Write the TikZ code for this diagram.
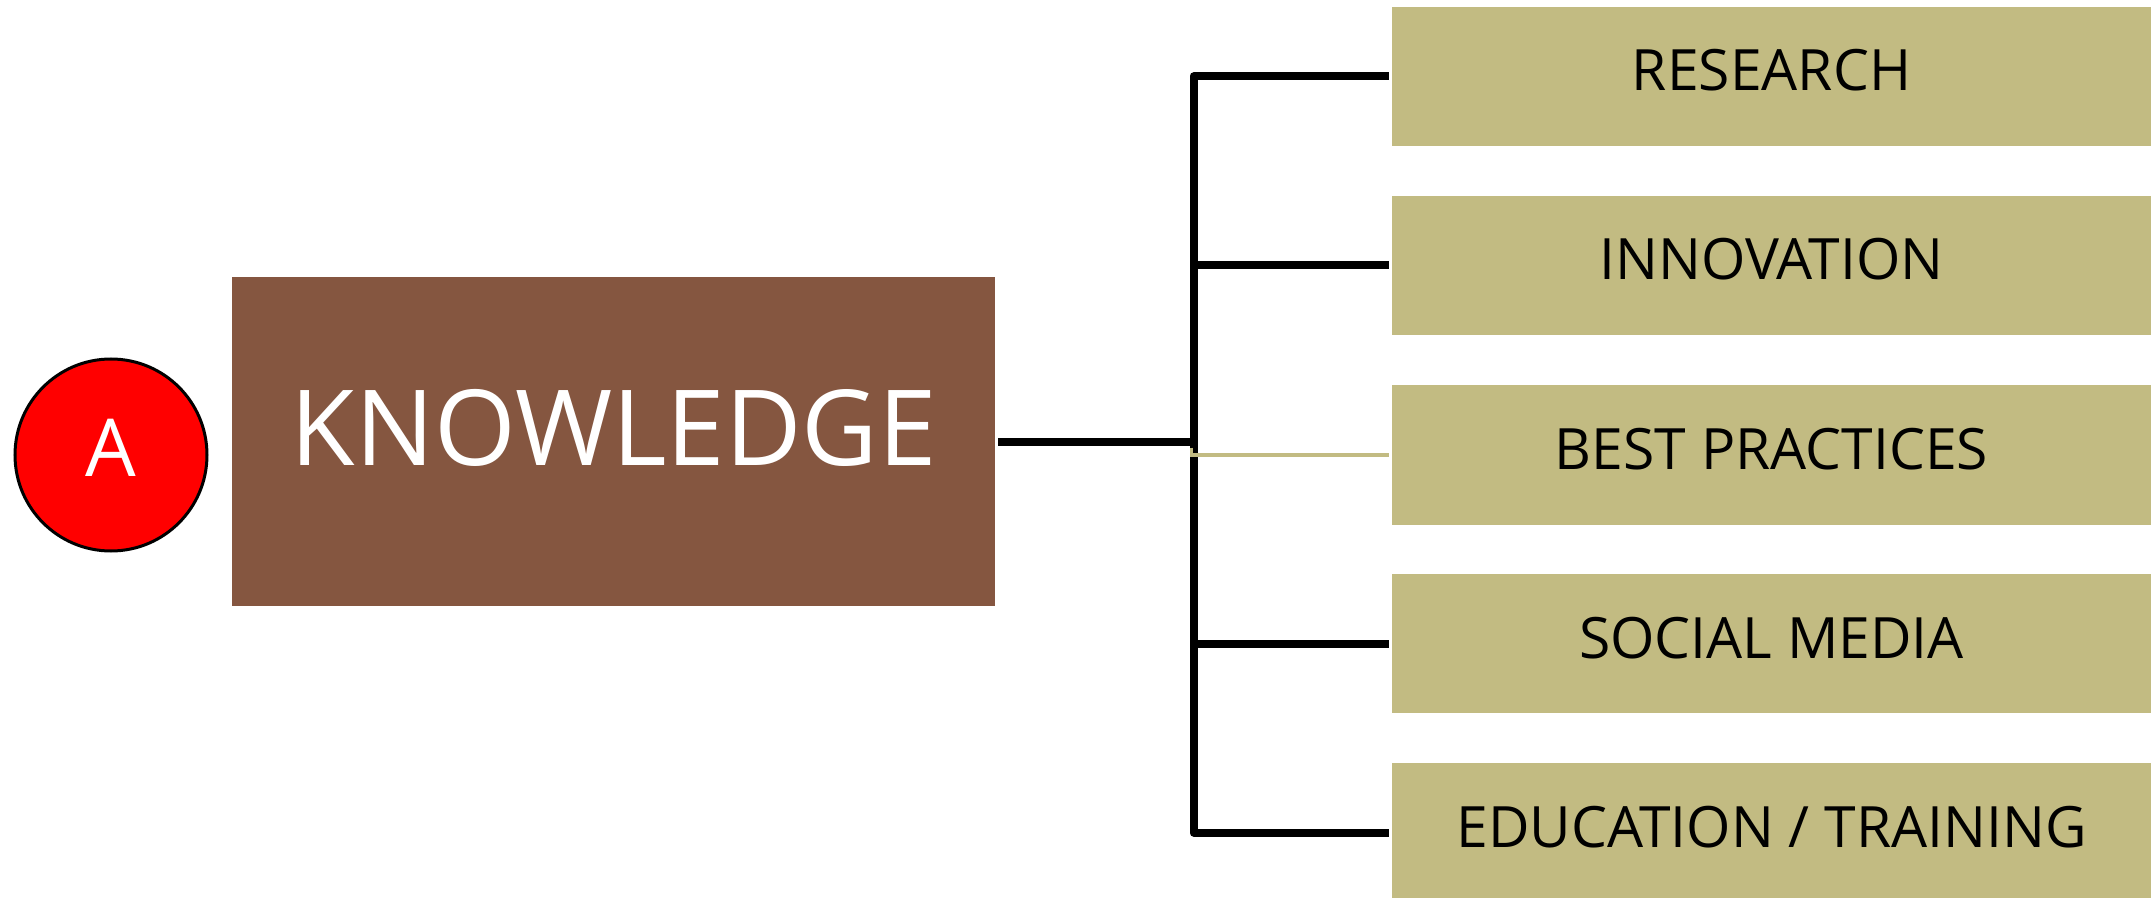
\documentclass[tikz,border=0pt]{standalone}
\usepackage{fontspec}
\setmainfont{Open Sans}
\definecolor{kbrown}{HTML}{855640}
\definecolor{ktan}{HTML}{C2BB82}
\definecolor{kred}{HTML}{FF0000}
\begin{document}
\begin{tikzpicture}[x=0.5pt,y=-0.5pt,
  redcirc/.style={circle,fill=kred,draw=black,line width=1.5pt,inner sep=0pt,
    minimum size=96pt,text=white,font=\fontsize{40pt}{40pt}\selectfont,
    text height=21pt,text depth=0pt},
  kbox/.style={rectangle,fill=kbrown,inner sep=0pt,minimum width=381.5pt,
    text height=94.5pt,text depth=70pt,text=white,
    font=\fontsize{52.5pt}{52.5pt}\selectfont},
  tbox/.style={rectangle,fill=ktan,inner sep=0pt,minimum width=379.5pt,
    text height=42pt,text depth=27.5pt,text=black,
    font=\fontsize{28.5pt}{28.5pt}\selectfont},
  conn/.style={draw=black,line width=4pt,line join=round},
  tanconn/.style={draw=ktan,line width=1.75pt,shorten >=1.5pt}]
\useasboundingbox (0,0) rectangle (2151,898);
\node[redcirc] (A) at (111,455) {A};
\node[kbox] (K) at (613.5,441.5) {KNOWLEDGE};
\node[tbox] (R) at (1771.5,76.5) {RESEARCH};
\node[tbox] (I) at (1771.5,265.5) {INNOVATION};
\node[tbox] (B) at (1771.5,455) {BEST PRACTICES};
\node[tbox] (S) at (1771.5,643.5) {SOCIAL MEDIA};
\node[tbox] (E) at (1771.5,832.5) {EDUCATION / TRAINING};
\coordinate (hub) at (1193.5,441.5);
\draw[conn,shorten <=1.5pt] (K.east) -- (hub);
\draw[conn,shorten >=1.5pt] (hub) |- (R.west);
\draw[conn,shorten >=1.5pt] (hub) |- (I.west);
\draw[conn,shorten >=1.5pt] (hub) |- (S.west);
\draw[conn,shorten >=1.5pt] (hub) |- (E.west);
\draw[tanconn] ([xshift=-1pt,yshift=-3pt]hub) |- (B.west);
\end{tikzpicture}
\end{document}
